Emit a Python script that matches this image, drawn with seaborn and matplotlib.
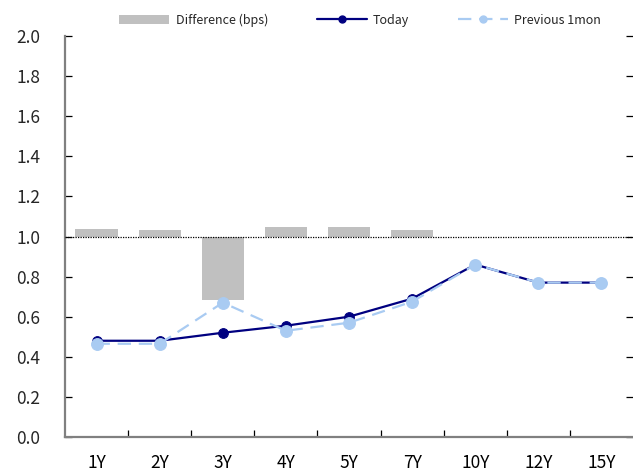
import matplotlib
matplotlib.use("Agg")
import matplotlib.pyplot as plt
import seaborn as sns
import pandas as pd
import numpy as np
from matplotlib.patches import Patch
from matplotlib.lines import Line2D

# Yield curve data
tenors = ["1Y", "2Y", "3Y", "4Y", "5Y", "7Y", "10Y", "12Y", "15Y"]
today = [0.48, 0.48, 0.52, 0.555, 0.60, 0.69, 0.86, 0.77, 0.77]
prev_1mon = [0.465, 0.465, 0.67, 0.53, 0.57, 0.675, 0.86, 0.77, 0.77]
diff_bps = [1.8, 1.55, -15.75, 2.35, 2.35, 1.55, 0.0, 0.0, 0.0]
y_ticks = [0.0, 0.2, 0.4, 0.6, 0.8, 1.0, 1.2, 1.4, 1.6, 1.8, 2.0]

sns.set_theme(style="white")
plt.rcParams["font.family"] = ["Noto Sans CJK KR", "DejaVu Sans"]

df = pd.DataFrame({"tenor": tenors, "today": today, "prev": prev_1mon, "diff": diff_bps})

fig = plt.figure(figsize=(6.33, 4.72), dpi=100)
ax = fig.add_axes([65 / 633, 1 - 437 / 472, 568 / 633, 401 / 472])
axb = ax.twinx()

# Difference bars on a hidden secondary scale: 0 bps sits on the 1.0 line
sns.barplot(data=df, x="tenor", y="diff", ax=axb, color="#c0c0c0",
            width=0.67, saturation=1, edgecolor="none")
axb.set_ylim(-50, 50)
axb.set_yticks([])
axb.set_ylabel("")
for s in axb.spines.values():
    s.set_visible(False)

ax.set_zorder(axb.get_zorder() + 1)
ax.patch.set_visible(False)

today_c = "#000080"
prev_c = "#a9cbf2"

sns.lineplot(data=df, x="tenor", y="prev", ax=ax, color=prev_c, linewidth=1.6,
             linestyle=(0, (6, 3.5)), marker="o", markersize=8.5,
             markeredgecolor=prev_c, markerfacecolor=prev_c, zorder=3, sort=False)
sns.lineplot(data=df, x="tenor", y="today", ax=ax, color=today_c, linewidth=1.6,
             marker="o", markersize=7, markeredgecolor=today_c,
             markerfacecolor=today_c, zorder=2, sort=False)
# previous markers sit on top of today's line where they overlap
ax.lines[0].set_zorder(4)

ax.axhline(1.0, color="black", linewidth=0.9, linestyle=(0, (1, 1)), zorder=5)

ax.set_ylim(0, 2.0)
ax.set_xlim(-0.5, len(tenors) - 0.5)
ax.set_yticks(y_ticks)
ax.set_yticklabels([f"{v:.1f}" for v in y_ticks])
ax.set_xticks(range(len(tenors)))
ax.set_xticklabels(tenors)
ax.set_xticks(np.arange(len(tenors) - 1) + 0.5, minor=True)
ax.set_xlabel("")
ax.set_ylabel("")

ax.tick_params(axis="x", which="major", length=0, pad=12, labelsize=12.5, colors="black")
ax.tick_params(axis="x", which="minor", direction="in", length=5, width=0.9,
               color="black", bottom=True)
ax.tick_params(axis="y", direction="in", length=5, width=0.9, color="black",
               left=True, right=True, labelright=False, pad=18, labelsize=12.5)

for side in ["top", "right"]:
    ax.spines[side].set_visible(False)
for side in ["left", "bottom"]:
    ax.spines[side].set_color("#808080")
    ax.spines[side].set_linewidth(1.6)

handles = [
    Patch(facecolor="#c0c0c0", edgecolor="none"),
    Line2D([], [], color=today_c, linewidth=1.6, marker="o", markersize=5),
    Line2D([], [], color=prev_c, linewidth=1.6, linestyle=(0, (6, 3.5)),
           marker="o", markersize=5),
]
labels = ["Difference (bps)", "Today", "Previous 1mon"]
fig.legend(handles, labels, loc="center", bbox_to_anchor=(0.569, 0.957), ncol=3,
           frameon=False, fontsize=9, handlelength=4.0, handleheight=0.8,
           columnspacing=3.9, handletextpad=0.5)

fig.savefig("out.png", dpi=100)
